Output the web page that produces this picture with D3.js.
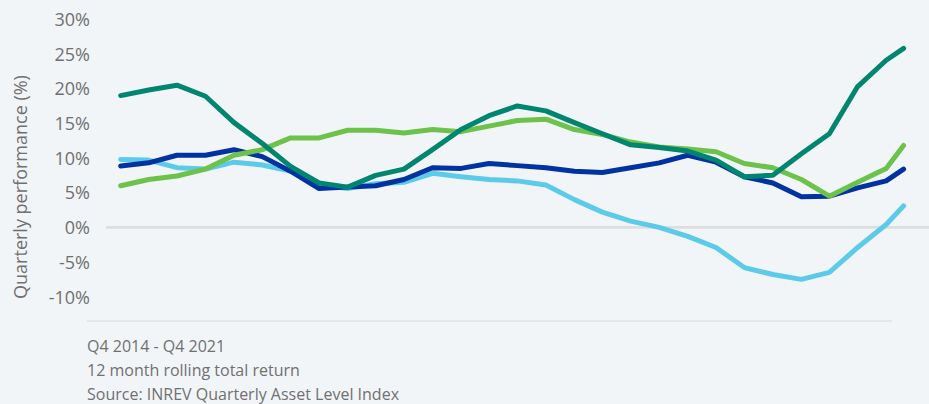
<!DOCTYPE html>
<html>
<head>
<meta charset="utf-8">
<script src="https://cdn.jsdelivr.net/npm/d3@7/dist/d3.min.js"></script>
<style>
  html, body { margin: 0; padding: 0; background: #f2f5f8; }
  svg { display: block; }
  text { font-family: "Open Sans", "Noto Sans", sans-serif; }
</style>
</head>
<body>
<svg id="chart" width="929" height="404"></svg>
<script>
// Observation dates (quarter ends, latest reading inside Q4 2021)
const dates = [
  "2014-12-31","2015-03-31","2015-06-30","2015-09-30","2015-12-31",
  "2016-03-31","2016-06-30","2016-09-30","2016-12-31",
  "2017-03-31","2017-06-30","2017-09-30","2017-12-31",
  "2018-03-31","2018-06-30","2018-09-30","2018-12-31",
  "2019-03-31","2019-06-30","2019-09-30","2019-12-31",
  "2020-03-31","2020-06-30","2020-09-30","2020-12-31",
  "2021-03-31","2021-06-30","2021-09-30","2021-11-25"
];

// 12 month rolling total return, %
const tealSeries = [19.0, 19.8, 20.5, 18.9, 15.1, 12.1, 8.8, 6.4, 5.8, 7.5, 8.4, 11.2, 14.1, 16.1, 17.5, 16.8, 15.1, 13.5, 11.9, 11.5, 11.0, 9.7, 7.3, 7.5, 10.6, 13.5, 20.3, 24.1, 25.8];
const greenSeries = [6.0, 6.9, 7.4, 8.4, 10.4, 11.2, 12.9, 12.9, 14.0, 14.0, 13.6, 14.1, 13.8, 14.6, 15.4, 15.6, 14.1, 13.4, 12.3, 11.6, 11.3, 10.9, 9.2, 8.6, 6.9, 4.5, 6.5, 8.5, 11.8];
const navySeries = [8.85, 9.3, 10.4, 10.4, 11.2, 10.2, 8.1, 5.6, 5.8, 6.0, 6.9, 8.6, 8.5, 9.2, 8.9, 8.6, 8.1, 7.9, 8.6, 9.3, 10.4, 9.4, 7.3, 6.4, 4.4, 4.5, 5.7, 6.7, 8.4];
const skySeries = [9.8, 9.7, 8.6, 8.4, 9.4, 9.0, 8.1, 6.1, 5.6, 6.3, 6.5, 7.8, 7.3, 6.9, 6.7, 6.1, 4.0, 2.2, 0.9, 0.0, -1.3, -2.9, -5.8, -6.8, -7.5, -6.5, -2.9, 0.4, 3.1];

const yTicks = [-10, -5, 0, 5, 10, 15, 20, 25, 30];
const footnotes = [
  "Q4 2014 - Q4 2021",
  "12 month rolling total return",
  "Source: INREV Quarterly Asset Level Index"
];
const yTitle = "Quarterly performance (%)";

// Bottom-to-top drawing order
const series = [
  { values: skySeries,   color: "#5bcbe9" },
  { values: navySeries,  color: "#0033a1" },
  { values: greenSeries, color: "#6cc24a" },
  { values: tealSeries,  color: "#00866f" }
];

const svg = d3.select("#chart");
const textColor = "#707070";

const parse = d3.utcParse("%Y-%m-%d");
const parsed = dates.map(parse);

const x = d3.scaleUtc()
  .domain([parsed[0], parse("2021-09-30")])
  .range([120.7, 886.2]);

const y = d3.scaleLinear()
  .domain([-10, 30])
  .range([296.7, 19.3]);

// zero reference line
svg.append("line")
  .attr("x1", 106).attr("x2", 929)
  .attr("y1", y(0)).attr("y2", y(0))
  .attr("stroke", "#dcdee1")
  .attr("stroke-width", 2.6);

// base rule
svg.append("line")
  .attr("x1", 87).attr("x2", 892)
  .attr("y1", 321).attr("y2", 321)
  .attr("stroke", "#dfe1e4")
  .attr("stroke-width", 1.5);

// y axis labels
const yAxis = d3.axisLeft(y)
  .tickValues(yTicks)
  .tickSize(0)
  .tickPadding(0)
  .tickFormat(d => d + "%");

const gy = svg.append("g")
  .attr("transform", "translate(90,0)")
  .call(yAxis);
gy.select(".domain").remove();
gy.selectAll("text")
  .attr("fill", textColor)
  .attr("font-size", 18)
  .attr("font-family", "'Open Sans', 'Noto Sans', sans-serif")
  .attr("dy", "0.35em");

svg.append("text")
  .attr("transform", "translate(27,187) rotate(-90)")
  .attr("text-anchor", "middle")
  .attr("fill", textColor)
  .attr("font-size", 18)
  .text(yTitle);

// lines
const line = d3.line()
  .x((d, i) => x(parsed[i]))
  .y(d => y(d));

svg.append("g")
  .selectAll("path")
  .data(series)
  .join("path")
  .attr("d", s => line(s.values))
  .attr("fill", "none")
  .attr("stroke", s => s.color)
  .attr("stroke-width", 5)
  .attr("stroke-linecap", "round")
  .attr("stroke-linejoin", "round");

// footnotes
svg.append("g")
  .selectAll("text")
  .data(footnotes)
  .join("text")
  .attr("x", 87)
  .attr("y", (d, i) => 352 + i * 24)
  .attr("fill", textColor)
  .attr("font-size", 16)
  .text(d => d);
</script>
</body>
</html>
